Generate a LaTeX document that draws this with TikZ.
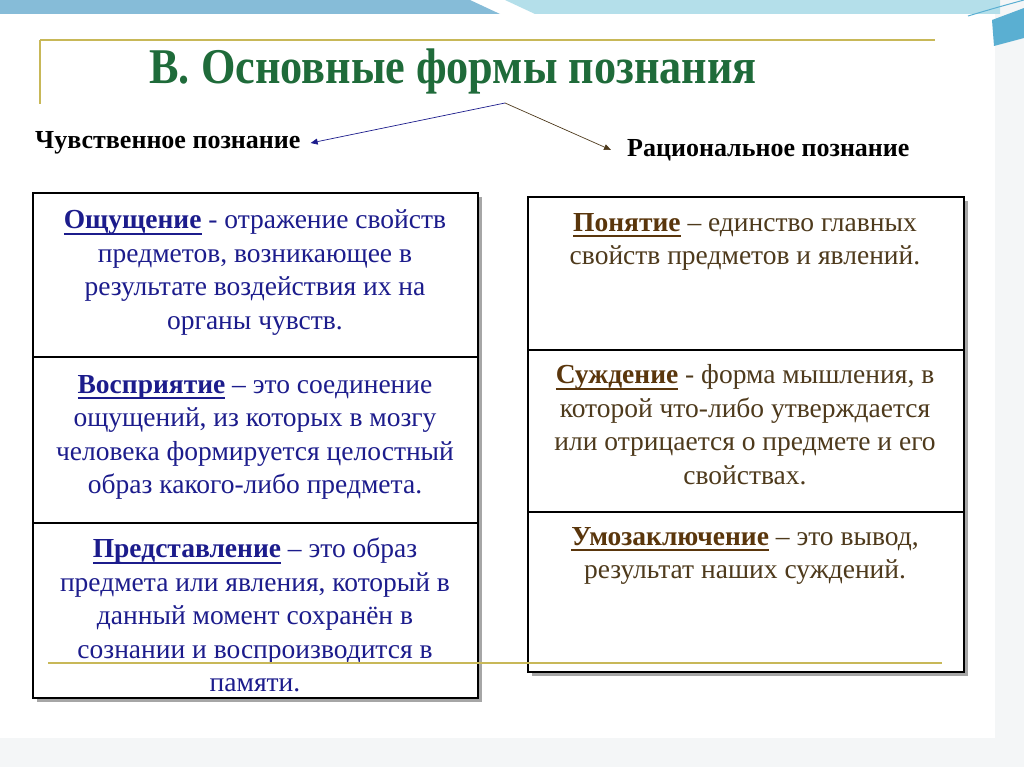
\documentclass[tikz,border=0pt]{standalone}
\usepackage{fontspec}
\setmainfont{Liberation Serif}
\newfontfamily\titlefont[FakeStretch=0.885]{Liberation Serif}
\usepackage{xcolor}
\usetikzlibrary{arrows.meta, positioning, calc}
\definecolor{barDark}{HTML}{86BCD8}
\definecolor{barLight}{HTML}{B4DFEA}
\definecolor{barCorner}{HTML}{5AAFD2}
\definecolor{goldLine}{HTML}{C8B858}
\definecolor{titleGreen}{HTML}{1F6B3A}
\definecolor{senseText}{HTML}{1C1C8C}
\definecolor{reasonText}{HTML}{4E3A1C}
\definecolor{reasonTerm}{HTML}{5A360C}
\definecolor{paleGrey}{HTML}{F4F6F7}
% underlined bold term
\newcommand\uterm[1]{\setbox0\hbox{\textbf{#1}}\rlap{\rule[-6pt]{\wd0}{1.8pt}}\box0\relax}

\begin{document}
\begin{tikzpicture}[
    x=1pt, y=-1pt,
    frame/.style={draw=black, line width=2.2pt},
    divider/.style={draw=black, line width=1.3pt},
    cell/.style={anchor=north, inner sep=0pt, align=center,
                 font=\fontsize{27.5}{33.5}\selectfont, text=#1},
    heading/.style={font=\fontsize{26}{28}\selectfont\bfseries, inner sep=0pt},
    link/.style={-{Triangle[length=7pt, width=6pt]}, line width=0.7pt, color=#1},
    gold/.style={goldLine, line width=2pt},
]
\useasboundingbox (0,0) rectangle (1024,767);

% ── background ──
\fill[white] (0,0) rectangle (1024,767);
\fill[paleGrey] (995,0) rectangle (1024,767);
\fill[paleGrey] (0,738) rectangle (1024,767);
\fill[barDark] (0,0) -- (470,0) -- (500,14) -- (0,14) -- cycle;
\fill[barLight] (505,0) -- (1000,0) -- (1000,14) -- (535,14) -- cycle;
\fill[barCorner] (992,20) -- (1024,8) -- (1024,38) -- (994,46) -- cycle;
\draw[barCorner, line width=1pt] (968,16) .. controls (995,8) .. (1024,0);

% ── gold rules ──
\draw[gold] (40,40) -- (935,40);
\draw[gold] (40,40) -- (40,104);

% ── title ──
\node[font=\fontsize{50}{54}\titlefont\bfseries, text=titleGreen, inner sep=0pt]
    (title) at (453,71) {В. Основные формы познания};

% ── headings ──
\coordinate (apex) at (505,103);
\node[heading, anchor=west] (sense) at (35,143) {Чувственное познание};
\node[heading, anchor=west] (reason) at (627,150) {Рациональное познание};
\draw[link=senseText] (apex) -- ([xshift=10pt]sense.east);
\draw[link=reasonText] (apex) -- ([xshift=-16pt]reason.west);

% ── left table ──
\fill[black!35] (37,197) rectangle (482,702);
\fill[white] (33,193) rectangle (478,698);
\draw[frame] (33,193) rectangle (478,698);
\draw[divider] (33,357) -- (478,357);
\draw[divider] (33,523) -- (478,523);

\node[cell=senseText] (sense1) at (255,209.5)
    {\uterm{Ощущение} - отражение свойств\\
     предметов, возникающее в\\
     результате воздействия их на\\
     органы чувств.};
\node[cell=senseText] (sense2) at (255,375)
    {\uterm{Восприятие} – это соединение\\
     ощущений, из которых в мозгу\\
     человека формируется целостный\\
     образ какого-либо предмета.};
\node[cell=senseText] (sense3) at (255,538)
    {\uterm{Представление} – это образ\\
     предмета или явления, который в\\
     данный момент сохранён в\\
     сознании и воспроизводится в\\
     памяти.};

% ── right table ──
\fill[black!35] (532,201) rectangle (968,676);
\fill[white] (528,197) rectangle (964,672);
\draw[frame] (528,197) rectangle (964,672);
\draw[divider] (528,350) -- (964,350);
\draw[divider] (528,512) -- (964,512);

\node[cell=reasonText] (reason1) at (745,213)
    {\textcolor{reasonTerm}{\uterm{Понятие}} – единство главных\\
     свойств предметов и явлений.};
\node[cell=reasonText] (reason2) at (745,364.5)
    {\textcolor{reasonTerm}{\uterm{Суждение}} - форма мышления, в\\
     которой что-либо утверждается\\
     или отрицается о предмете и его\\
     свойствах.};
\node[cell=reasonText] (reason3) at (745,527)
    {\textcolor{reasonTerm}{\uterm{Умозаключение}} – это вывод,\\
     результат наших суждений.};

% gold rule over the tables
\draw[gold] (48,663) -- (942,663);

\end{tikzpicture}
\end{document}
